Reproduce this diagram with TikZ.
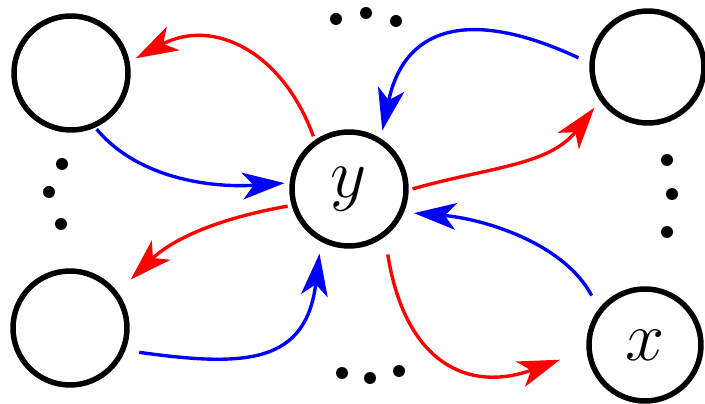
\documentclass[tikz,border=0pt]{standalone}
\usepackage{fix-cm}
\usepackage{amsmath}
\usepackage{tikz}
\usetikzlibrary{arrows.meta}
\tikzset{
    state/.style={draw, circle, line width=3.9pt, minimum size=2.85cm, inner sep=0pt, font=\fontsize{50}{60}\selectfont},
    smallstate/.style={state, minimum size=2.8cm},
    arrow/.style={-{Stealth[length=30pt, width=19pt, inset=8pt]}, line width=2.4pt},
    redarrow/.style={arrow, red},
    bluearrow/.style={arrow, blue},
    dot/.style={fill=black}
}
\begin{document}
\begin{tikzpicture}
    \useasboundingbox (0,0) rectangle (17.625,10.1);
    % States
    \node [state] (tl) at (1.775, 8.275) {};
    \node [state] (bl) at (1.75, 1.9) {};
    \node [state] (y) at (8.725, 5.375) {$y$};
    \node [smallstate] (tr) at (16.2, 8.425) {};
    \node [smallstate] (x) at (16.125, 1.475) {$x$};

    % Dots
    \fill [dot] (8.4, 9.625) circle (0.15) (9.15, 9.775) circle (0.15) (9.9, 9.575) circle (0.15);
    \fill [dot] (8.55, 0.775) circle (0.15) (9.25, 0.65) circle (0.15) (9.975, 0.825) circle (0.15);
    \fill [dot] (1.55, 6.0) circle (0.15) (1.225, 5.3) circle (0.15) (1.525, 4.5) circle (0.15);
    \fill [dot] (16.675, 6.1) circle (0.15) (16.8, 5.25) circle (0.15) (16.675, 4.3) circle (0.15);

    % Connections
    \draw [redarrow, shorten <=0.1cm, shorten >=0.175cm] (y.125) to[out=110, in=28, looseness=1.2] (tl.11);
    \draw [bluearrow, shorten <=0.05cm, shorten >=0.125cm] (tl.-66) to[out=-50, in=184, looseness=0.9] (y.174);
    \draw [bluearrow, shorten <=0.3cm, shorten >=0.2cm] (tr.176) to[out=155, in=78, looseness=1.4] (y.58);
    \draw [redarrow, shorten <=0.1cm, shorten >=0.225cm] (y.-1) to[out=16, in=232, looseness=1] (tr.215);
    \draw [redarrow, shorten <=0.1cm, shorten >=0.45cm] (y.196) to[out=190, in=44, looseness=1] (bl.37);
    \draw [bluearrow, shorten <=0.35cm, shorten >=0.3cm] (bl.-22) to[out=-8, in=263, looseness=1.4] (y.242);
    \draw [bluearrow, shorten <=0.375cm, shorten >=0.25cm] (x.142) to[out=118, in=-4.5, looseness=0.9] (y.-23);
    \draw [redarrow, shorten <=0.45cm, shorten >=0.7cm] (y.-53) to[out=-81, in=200, looseness=1.4] (x.185);
\end{tikzpicture}
\end{document}
